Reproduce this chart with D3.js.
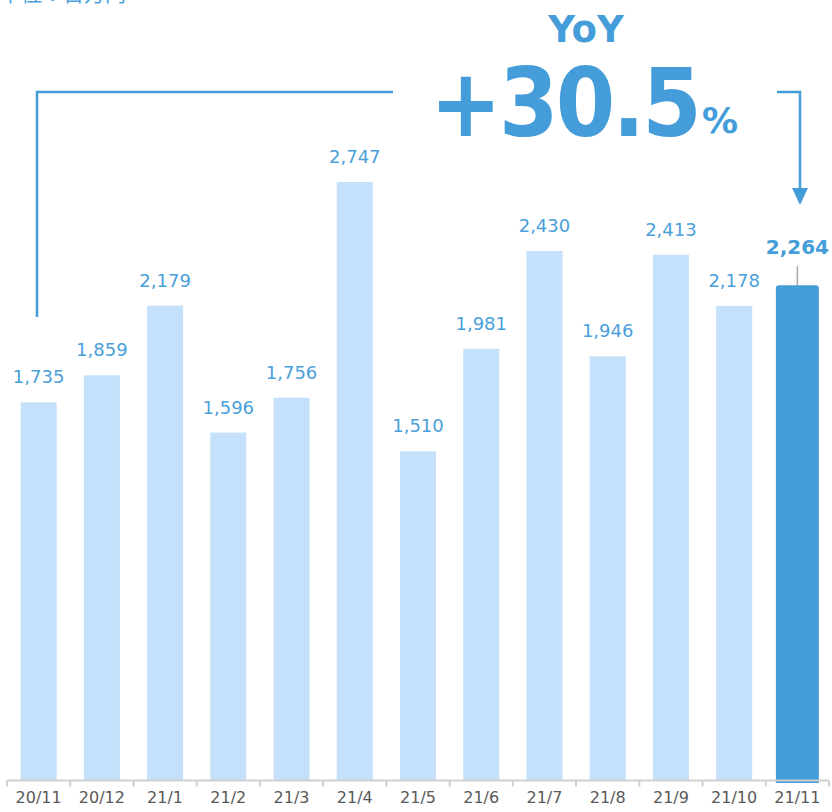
<!DOCTYPE html>
<html><head><meta charset="utf-8">
<script src="https://cdn.jsdelivr.net/npm/d3@7"></script>
<style>html,body{margin:0;padding:0;background:#fff;overflow:hidden}</style>
</head><body>
<script>
const categories = ["20/11","20/12","21/1","21/2","21/3","21/4","21/5","21/6","21/7","21/8","21/9","21/10","21/11"];
const values = [1735,1859,2179,1596,1756,2747,1510,1981,2430,1946,2413,2178,2264];
const highlightIndex = 12;
const unitLabel = "単位：百万円";
const yoyTitle = "YoY";
const yoyValue = "+30.5";
const yoyUnit = "%";

const W = 832, H = 812;
const blue = "#449dd8", light = "#c4e0fb", textBlue = "#4aa0da", gray = "#595959";
const svg = d3.select("body").append("svg").attr("width", W).attr("height", H);
const x = d3.scaleBand().domain(categories).range([7, 829]).paddingInner(0.43).paddingOuter(0.215);
const y = d3.scaleLinear().domain([0, 2747]).range([780, 182]);
const font = "'DejaVu Sans', Verdana, sans-serif";

// bars
values.forEach((v, i) => {
  const c = categories[i];
  if (i === highlightIndex) {
    const cx = x(c) + x.bandwidth() / 2, bw = 43, r = 3;
    const x0 = cx - bw / 2, x1 = cx + bw / 2, top = y(v) - 2, bot = y(0) + 3;
    svg.append("path").attr("fill", blue)
      .attr("d", `M${x0},${bot}V${top + r}Q${x0},${top} ${x0 + r},${top}H${x1 - r}Q${x1},${top} ${x1},${top + r}V${bot}Z`);
  } else {
    svg.append("rect").attr("x", x(c)).attr("y", y(v)).attr("width", x.bandwidth())
      .attr("height", y(0) - y(v)).attr("fill", light);
  }
});

// axis
const axis = d3.axisBottom(x).tickSize(5).tickSizeOuter(0).tickFormat(d => d);
const ax = svg.append("g").attr("transform", "translate(0,780.5)").call(axis);
ax.select(".domain").attr("stroke", "#d0d0d0").attr("stroke-width", 2).attr("d", "M7,0H829");
ax.selectAll(".tick line").remove();
const edges = categories.map(c => x(c) - x.step() * x.paddingInner() / 2);
edges.push(829);
ax.selectAll(".edge").data(edges).enter().append("line").attr("class", "edge")
  .attr("x1", d => d).attr("x2", d => d).attr("y1", 0).attr("y2", 6)
  .attr("stroke", "#d0d0d0").attr("stroke-width", 2);
ax.selectAll(".tick text").attr("y", 11).attr("dy", "0.71em").attr("fill", gray)
  .style("font-family", font).style("font-size", "16px");

// value labels
values.forEach((v, i) => {
  const c = categories[i], cx = x(c) + x.bandwidth() / 2;
  if (i === highlightIndex) {
    svg.append("text").attr("x", cx).attr("y", y(v) - 33).attr("text-anchor", "middle")
      .attr("fill", blue).style("font-family", font).style("font-weight", "bold").style("font-size", "20px")
      .text(d3.format(",")(v));
    svg.append("line").attr("x1", cx).attr("x2", cx).attr("y1", y(v) - 21).attr("y2", y(v) - 2)
      .attr("stroke", "#a8a8a8").attr("stroke-width", 1.5);
  } else {
    svg.append("text").attr("x", cx).attr("y", y(v) - 19).attr("text-anchor", "middle")
      .attr("fill", textBlue).style("font-family", font).style("font-size", "18px")
      .text(d3.format(",")(v));
  }
});

// unit label (cut at top, as in the source)
svg.append("text").attr("x", 0).attr("y", 1).attr("fill", textBlue)
  .style("font-family", "'Noto Sans CJK JP', sans-serif").style("font-size", "21px").text(unitLabel);

// YoY annotation
svg.append("text").attr("x", 586).attr("y", 42).attr("text-anchor", "middle").attr("fill", blue)
  .style("font-family", font).style("font-weight", "bold").style("font-size", "37px").text(yoyTitle);
svg.append("text").attr("transform", "translate(430,136) scale(0.91,1)").attr("fill", blue)
  .style("font-family", font).style("font-weight", "bold").style("font-size", "94px")
  .attr("letter-spacing", "-3px").text(yoyValue);
svg.append("text").attr("x", 702).attr("y", 133).attr("fill", blue)
  .style("font-family", font).style("font-weight", "bold").style("font-size", "36px").text(yoyUnit);

// bracket
svg.append("path").attr("fill", "none").attr("stroke", blue).attr("stroke-width", 2.5)
  .attr("d", "M37,317V92H393");
svg.append("path").attr("fill", "none").attr("stroke", blue).attr("stroke-width", 2.5)
  .attr("d", "M777,92H800V190");
svg.append("path").attr("fill", blue).attr("d", "M792,188H808L800,205Z");
</script>
</body></html>
